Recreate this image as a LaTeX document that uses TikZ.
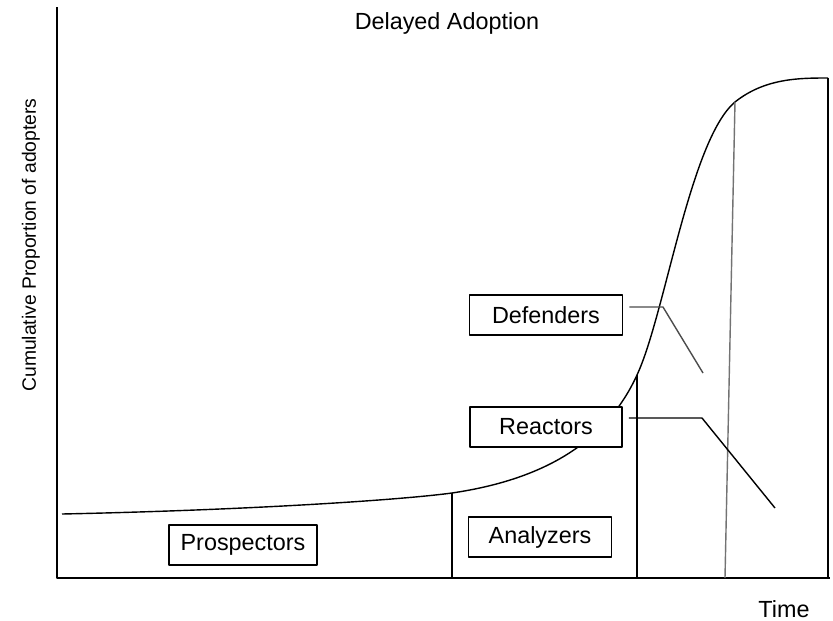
\documentclass[tikz,border=0pt]{standalone}
\usepackage{fontspec}
\setmainfont{Liberation Sans}
\usetikzlibrary{calc}
\usetikzlibrary{positioning}

\begin{document}
\begin{tikzpicture}[x=0.02cm, y=-0.02cm, line join=round,
	font=\fontsize{13.3}{16}\selectfont,
	axis/.style={line width=1.1pt},
	curve/.style={line width=0.8pt},
	stratbox/.style={rectangle, draw, fill=white, line width=0.9pt,
				minimum height=0.8cm, inner sep=2pt},
	lead/.style={line width=0.8pt},
]
\useasboundingbox (0,0) rectangle (833,620);
% axes
\coordinate (top) at (57,7);
\coordinate (O)   at (57,578);
\coordinate (end) at (830,578);
\draw [axis] (top) -- (O) -- (end);
%
% cumulative adoption curve
\coordinate (c0) at (62,514);
\coordinate (c1) at (452,493);
\coordinate (c2) at (637,375);
\coordinate (c3) at (735,102);
\coordinate (c4) at (828,78);
\draw [curve] (c0) .. controls (250,510) and (400,500) .. (c1)
	.. controls (540,480) and (605,445) .. (c2)
	.. controls (665,315) and (690,140) .. (c3)
	.. controls (765,78) and (800,78) .. (c4);
%
% group boundaries
\draw [lead] (c1) -- (c1 |- O);
\draw [lead] (c2) -- (c2 |- O);
\draw [lead, black!55] (c3) -- (725,578);
\draw [lead] (c4) -- (c4 |- O);
%
\node [stratbox, minimum width=2.96cm] (prosp)  at (243,545) {Prospectors};
\node [stratbox, minimum width=2.86cm] (analy)  at (540,537) {Analyzers};
\node [stratbox, minimum width=3.04cm] (react)  at (546,427) {Reactors};
\node [stratbox, minimum width=3.06cm] (defend) at (546,315) {Defenders};
%
\coordinate (dbend) at (663,307);
\coordinate (dend)  at (703,373);
\coordinate (rbend) at (702,418);
\coordinate (rend)  at (775,508);
\draw [lead, black!70] ($(defend.east)+(6,-8)$) -- (dbend) -- (dend);
\draw [lead] ($(react.east)+(6,-9)$) -- (rbend) -- (rend);
%
\node (title) at (447,23)  {Delayed Adoption};
\node (time)  at (784,609) {Time};
\node [rotate=90, font=\fontsize{11}{13}\selectfont] (ylab) at (31,245)
	{Cumulative Proportion of adopters};
\end{tikzpicture}
\end{document}
